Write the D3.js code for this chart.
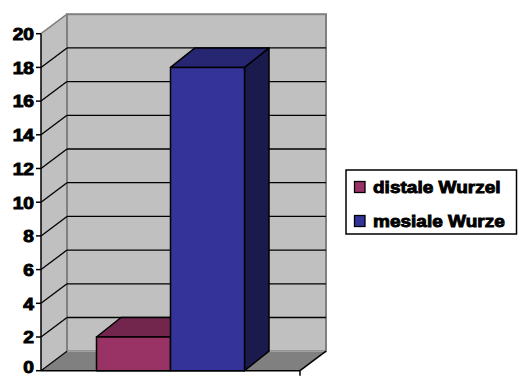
<!DOCTYPE html>
<html>
<head>
<meta charset="utf-8">
<script src="https://cdn.jsdelivr.net/npm/d3@7"></script>
<style>
  html, body { margin: 0; padding: 0; background: #ffffff; }
  svg { display: block; }
</style>
</head>
<body>
<svg id="chart" width="518" height="376"></svg>
<script>
// ---- data ----
const categories = [""];
const seriesNames = ["distale Wurzel", "mesiale Wurze"];
const seriesValues = [2, 18];
const yDomain = [0, 20];
const tickStep = 2;

// ---- styles ----
const frontColors = ["#993366", "#333399"];
const topColors = ["#73264d", "#262673"];
const sideColors = ["#4d1a33", "#1a1a4d"];
const FONT = "Arial, 'Liberation Sans', sans-serif";

const svg = d3.select("#chart");

// layout
const plotLeft = 41, plotRight = 300;
const yBottom = 370.7, yTop = 33.7;
const DX = 26, DY = -19.5;      // wall depth
const BDX = 24.5, BDY = -19.5;  // bar depth

const y = d3.scaleLinear().domain(yDomain).range([yBottom, yTop]);
const x0 = d3.scaleBand().domain(categories).range([plotLeft, plotRight]).padding(0.2727);
const x1 = d3.scaleBand().domain(seriesNames).range([0, x0.bandwidth()]);
const ticks = d3.range(yDomain[0], yDomain[1] + tickStep / 2, tickStep);

const pts = a => a.map(p => p.join(",")).join(" ");

// back wall
svg.append("rect")
  .attr("x", plotLeft + DX).attr("y", y(yDomain[1]) + DY)
  .attr("width", plotRight - plotLeft).attr("height", y(0) - y(yDomain[1]))
  .attr("fill", "#c0c0c0").attr("stroke", "#808080").attr("stroke-width", 2);

// side wall
svg.append("polygon")
  .attr("points", pts([[plotLeft, y(yDomain[1])], [plotLeft + DX, y(yDomain[1]) + DY],
                       [plotLeft + DX, y(0) + DY], [plotLeft, y(0)]]))
  .attr("fill", "#c0c0c0");

// floor
svg.append("polygon")
  .attr("points", pts([[plotLeft, y(0)], [plotRight, y(0)],
                       [plotRight + DX, y(0) + DY], [plotLeft + DX, y(0) + DY]]))
  .attr("fill", "#808080");
svg.append("line")
  .attr("x1", plotLeft + DX).attr("x2", plotRight + DX)
  .attr("y1", y(0) + DY).attr("y2", y(0) + DY)
  .attr("stroke", "#a0a0a0").attr("stroke-width", 1.5);
svg.append("line")
  .attr("x1", plotLeft + DX).attr("x2", plotLeft + DX)
  .attr("y1", y(yDomain[1]) + DY).attr("y2", y(0) + DY)
  .attr("stroke", "#808080").attr("stroke-width", 2);

// gridlines
ticks.forEach(v => {
  if (v === 0) return;
  const isTop = v === yDomain[1];
  svg.append("line")
    .attr("x1", plotLeft).attr("y1", y(v))
    .attr("x2", plotLeft + DX).attr("y2", y(v) + DY)
    .attr("stroke", isTop ? "#808080" : "#000").attr("stroke-width", isTop ? 1.5 : 1.3);
  if (!isTop) {
    svg.append("line")
      .attr("x1", plotLeft + DX).attr("x2", plotRight + DX)
      .attr("y1", y(v) + DY).attr("y2", y(v) + DY)
      .attr("stroke", "#000").attr("stroke-width", 1.3);
  }
});

// floor edges
svg.append("line")
  .attr("x1", plotLeft).attr("y1", y(0)).attr("x2", plotLeft + DX).attr("y2", y(0) + DY)
  .attr("stroke", "#000").attr("stroke-width", 1.2);
svg.append("line")
  .attr("x1", plotRight).attr("y1", y(0)).attr("x2", plotRight + DX).attr("y2", y(0) + DY)
  .attr("stroke", "#000").attr("stroke-width", 1.5);

// bars
categories.forEach(c => {
  seriesNames.forEach((s, i) => {
    const v = seriesValues[i];
    const xl = x0(c) + x1(s), xr = xl + x1.bandwidth();
    const yt = y(v), yb = y(0);
    const g = svg.append("g").attr("stroke", "#000").attr("stroke-width", 1.5).attr("stroke-linejoin", "round");
    g.append("polygon")
      .attr("points", pts([[xr, yt], [xr + BDX, yt + BDY], [xr + BDX, yb + BDY], [xr, yb]]))
      .attr("fill", sideColors[i]);
    g.append("polygon")
      .attr("points", pts([[xl, yt], [xl + BDX, yt + BDY], [xr + BDX, yt + BDY], [xr, yt]]))
      .attr("fill", topColors[i]);
    g.append("rect")
      .attr("x", xl).attr("y", yt).attr("width", xr - xl).attr("height", yb - yt)
      .attr("fill", frontColors[i]);
  });
});

// axes
svg.append("line")
  .attr("x1", plotLeft).attr("x2", plotLeft).attr("y1", y(yDomain[1])).attr("y2", y(0))
  .attr("stroke", "#000").attr("stroke-width", 1.5);
svg.append("line")
  .attr("x1", plotLeft).attr("x2", plotRight).attr("y1", y(0)).attr("y2", y(0))
  .attr("stroke", "#000").attr("stroke-width", 1.5);
svg.append("line")
  .attr("x1", plotRight).attr("x2", plotRight).attr("y1", y(0)).attr("y2", y(0) + 5)
  .attr("stroke", "#000").attr("stroke-width", 1.5);

ticks.forEach(v => {
  svg.append("line")
    .attr("x1", plotLeft - 5).attr("x2", plotLeft).attr("y1", y(v)).attr("y2", y(v))
    .attr("stroke", "#000").attr("stroke-width", 1.5);
  svg.append("g")
    .attr("transform", `translate(34,${Math.min(y(v) + 6.3, 373)}) scale(1.2,1)`)
    .append("text")
    .attr("text-anchor", "end")
    .attr("font-family", FONT)
    .attr("font-weight", 700)
    .attr("font-size", 16)
    .attr("fill", "#000")
    .attr("stroke", "#000").attr("stroke-width", 0.9)
    .text(d3.format("d")(v));
});

// legend
const legend = svg.append("g");
legend.append("rect")
  .attr("x", 346).attr("y", 170).attr("width", 170.5).attr("height", 64)
  .attr("fill", "#fff").attr("stroke", "#000").attr("stroke-width", 1.5);
seriesNames.forEach((s, i) => {
  const by = 193 + i * 34;
  legend.append("rect")
    .attr("x", 354.5).attr("y", by - 11.5).attr("width", 10.5).attr("height", 11)
    .attr("fill", frontColors[i]).attr("stroke", "#000").attr("stroke-width", 1.3);
  legend.append("g")
    .attr("transform", `translate(373,${by}) scale(1.12,1)`)
    .append("text")
    .attr("font-family", FONT)
    .attr("font-weight", 700)
    .attr("font-size", 17)
    .attr("fill", "#000")
    .attr("stroke", "#000").attr("stroke-width", 0.9)
    .text(s);
});
</script>
</body>
</html>
